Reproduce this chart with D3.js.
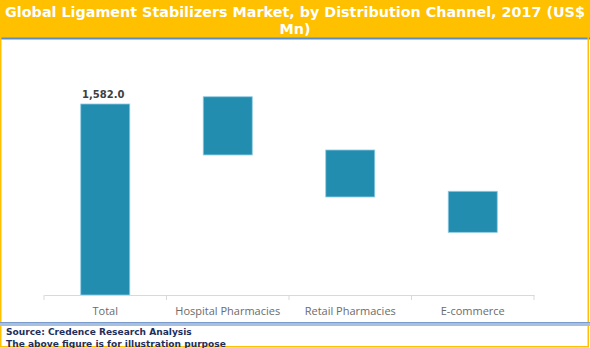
<!DOCTYPE html>
<html><head><meta charset="utf-8">
<script src="https://cdn.jsdelivr.net/npm/d3@7"></script>
<style>body{margin:0;background:#fff;}svg{display:block;}</style>
</head><body>
<svg id="c" width="590" height="348"></svg>
<script>
const categories = ["Total", "Hospital Pharmacies", "Retail Pharmacies", "E-commerce"];
const barStart = [0, 1160, 812, 519];
const barEnd = [1582, 1642, 1201, 859];
const valueLabels = ["1,582.0", "", "", ""];
const titleLines = ["Global Ligament Stabilizers Market, by Distribution Channel, 2017 (US$", "Mn)"];
const sourceLines = ["Source: Credence Research Analysis", "The above figure is for illustration purpose"];

const svg = d3.select("#c");
const W = 590, H = 348;

// title band
svg.append("rect").attr("x",0).attr("y",0).attr("width",W).attr("height",38).attr("fill","#FFC000");
svg.append("rect").attr("x",0).attr("y",37.5).attr("width",W).attr("height",2).attr("fill","#5B8DC4");

// frame (yellow border)
svg.append("rect").attr("x",0.75).attr("y",0.75).attr("width",W-2.5).attr("height",H-2).attr("fill","none")
  .attr("stroke","#FFC000").attr("stroke-width",1.5);

// title text
const tt = svg.append("text").attr("text-anchor","middle").attr("fill","#fff")
  .attr("font-family","DejaVu Sans, Verdana, sans-serif").attr("font-weight","bold").attr("font-size",13);
tt.selectAll("tspan").data(titleLines).join("tspan").attr("x",W/2).attr("y",(d,i)=>17+i*17).text(d=>d);
const firstLen = tt.select("tspan").node().getComputedTextLength();
tt.attr("font-size", 13*580/firstLen);

// scales
const x = d3.scaleBand().domain(categories).range([44,534]).paddingInner(0.6).paddingOuter(0.3);
const xAxisScale = d3.scaleBand().domain(categories).range([44,534]);
const y = d3.scaleLinear().domain([0,1800]).range([295, 295-1800*(191/1582)]);

// bars
const data = categories.map((c,i)=>({c, s:barStart[i], e:barEnd[i], l:valueLabels[i]}));
svg.append("g").selectAll("rect").data(data).join("rect")
  .attr("x", d=>x(d.c)).attr("width", x.bandwidth())
  .attr("y", d=>y(d.e)).attr("height", d=>y(d.s)-y(d.e))
  .attr("fill","#238DB0").attr("stroke","#8CCBE2").attr("stroke-width",0.8);

// value labels
svg.append("g").selectAll("text").data(data.filter(d=>d.l)).join("text")
  .attr("x", d=>x(d.c)+x.bandwidth()/2 - 2).attr("y", d=>y(d.e)-6)
  .attr("text-anchor","middle").attr("fill","#404040")
  .attr("font-family","DejaVu Sans, Verdana, sans-serif").attr("font-weight","bold").attr("font-size",10)
  .text(d=>d.l);

// axis
const ax = svg.append("g").attr("transform","translate(0,295)")
  .call(d3.axisBottom(xAxisScale).tickSize(0).tickSizeOuter(0));
ax.select(".domain").attr("stroke","#D9D9D9");
ax.selectAll(".tick text").attr("fill","#6B6B6B").attr("font-family","Open Sans, sans-serif")
  .attr("font-size",11).attr("dy",0).attr("y",20);
const bounds = categories.map(c=>xAxisScale(c)).concat([534]);
svg.append("g").selectAll("line").data(bounds).join("line")
  .attr("x1",d=>d).attr("x2",d=>d).attr("y1",295).attr("y2",300).attr("stroke","#D9D9D9");

// source band
svg.append("rect").attr("x",0).attr("y",322).attr("width",W).attr("height",4).attr("fill","#A7C0E0");
svg.append("line").attr("x1",0).attr("x2",W).attr("y1",322.5).attr("y2",322.5).attr("stroke","#7A9ACB");
const st = svg.append("text").attr("fill","#1F2F5C")
  .attr("font-family","DejaVu Sans, Verdana, sans-serif").attr("font-weight","bold").attr("font-size",9.5);
st.selectAll("tspan").data(sourceLines).join("tspan").attr("x",6).attr("y",(d,i)=>335+i*11.5).text(d=>d);
const sLen = st.select("tspan").node().getComputedTextLength();
st.attr("font-size", 9.5*186/sLen);
</script>
</body></html>
